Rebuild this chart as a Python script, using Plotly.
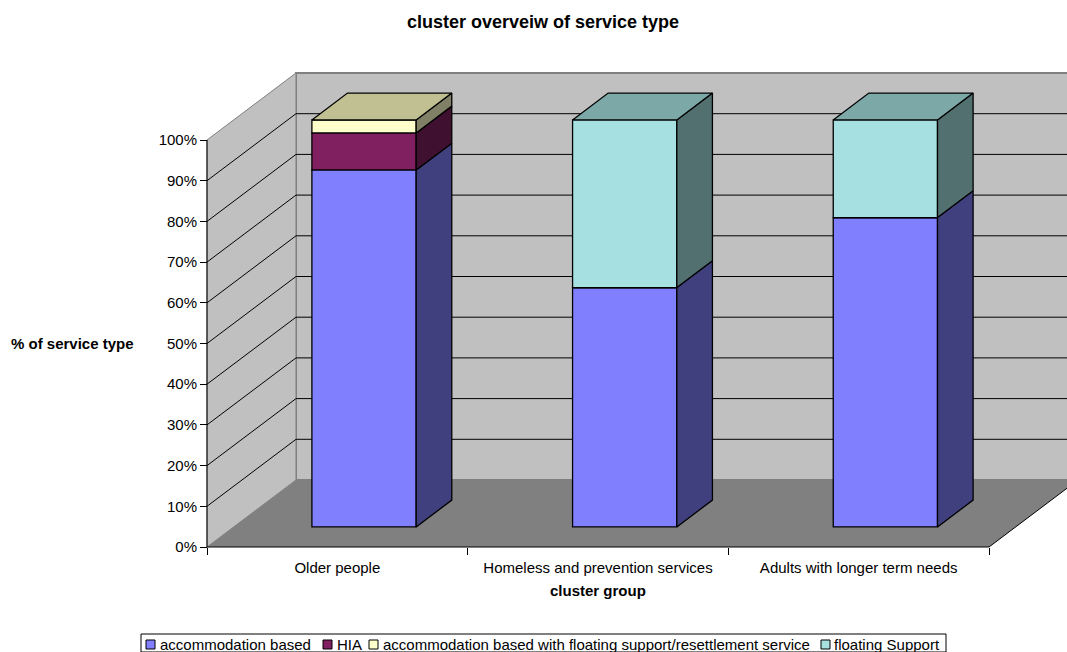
import plotly.graph_objects as go

categories = ["Older people", "Homeless and prevention services", "Adults with longer term needs"]
series_names = ["accommodation based", "HIA",
                "accommodation based with floating support/resettlement service", "floating Support"]
accommodation = [87.7, 58.8, 76.0]
hia = [9.1, 0, 0]
accommodation_floating = [3.2, 0, 0]
floating = [0, 41.2, 24.0]
series_values = [accommodation, hia, accommodation_floating, floating]
pct_ticks = [0, 10, 20, 30, 40, 50, 60, 70, 80, 90, 100]
pct_labels = ["0%", "10%", "20%", "30%", "40%", "50%", "60%", "70%", "80%", "90%", "100%"]

front_colors = ["#8080FF", "#802060", "#FFFFCC", "#A6E0E0"]
side_colors = ["#40407F", "#401030", "#808066", "#527070"]
top_colors = ["#6060BF", "#601848", "#C0C092", "#7CA8A8"]

W, H = 1067, 652
X0_PX, X1_PX, Y0_PX, Y100_PX = 207.0, 989.0, 547.0, 140.0
px_per_cat = (X1_PX - X0_PX) / len(categories)
px_per_pct = (Y0_PX - Y100_PX) / 100.0

# Oblique projection: full floor depth shifts right and up by these amounts
DEPTH_X = 89.0 / px_per_cat
DEPTH_Y = 67.0 / px_per_pct
BAR_HALF = 0.2
DEPTH_NEAR, DEPTH_FAR = 0.3, 0.7
EDGE_WIDTH = 1.3


def proj(x, depth, pct):
    return x + depth * DEPTH_X, pct + depth * DEPTH_Y


def path(points):
    return "M " + " L ".join(f"{x:.4f} {y:.4f}" for x, y in points) + " Z"


x_lo, x_hi = -0.5, len(categories) - 0.5
positions = list(range(len(categories)))
boundaries = [p - 0.5 for p in positions] + [x_hi]
shapes = []
wall = "#C0C0C0"
edge = "#808080"

# Back wall, left wall and floor
shapes.append(dict(type="path", layer="below", fillcolor=wall, line=dict(color=edge, width=2),
                   path=path([proj(x_lo, 1, 0), proj(x_lo, 1, 100), proj(x_hi, 1, 100), proj(x_hi, 1, 0)])))
shapes.append(dict(type="path", layer="below", fillcolor=wall, line=dict(color=edge, width=1),
                   path=path([proj(x_lo, 0, 0), proj(x_lo, 0, 100), proj(x_lo, 1, 100), proj(x_lo, 1, 0)])))
shapes.append(dict(type="path", layer="below", fillcolor=edge, line=dict(width=0),
                   path=path([proj(x_lo, 0, 0), proj(x_hi, 0, 0), proj(x_hi, 1, 0), proj(x_lo, 1, 0)])))

# Gridlines along the left wall and the back wall
for p in pct_ticks[1:-1]:
    a, b, c = proj(x_lo, 0, p), proj(x_lo, 1, p), proj(x_hi, 1, p)
    shapes.append(dict(type="line", layer="below", x0=a[0], y0=a[1], x1=b[0], y1=b[1],
                       line=dict(color="black", width=1)))
    shapes.append(dict(type="line", layer="below", x0=b[0], y0=b[1], x1=c[0], y1=c[1],
                       line=dict(color="black", width=1)))

# Axis lines and the open floor edge
for a, b in [(proj(x_lo, 0, 0), proj(x_lo, 0, 100)),
             (proj(x_lo, 0, 0), proj(x_hi, 0, 0)),
             (proj(x_hi, 0, 0), proj(x_hi, 1, 0))]:
    shapes.append(dict(type="line", layer="below", x0=a[0], y0=a[1], x1=b[0], y1=b[1],
                       line=dict(color="black", width=1)))

fig = go.Figure()

# Front faces of the stacked columns
near_shift = DEPTH_NEAR * DEPTH_Y
front_offset = -BAR_HALF + DEPTH_NEAR * DEPTH_X
cumulative = [0.0] * len(categories)
for name, values, color in zip(series_names, series_values, front_colors):
    fig.add_trace(go.Bar(
        x=positions, y=values,
        base=[c + near_shift for c in cumulative],
        width=2 * BAR_HALF, offset=front_offset, name=name,
        marker=dict(color=color, line=dict(color="black", width=EDGE_WIDTH)),
        showlegend=False,
    ))
    cumulative = [c + v for c, v in zip(cumulative, values)]


def add_face(points, color):
    xs, ys = zip(*(points + points[:1]))
    fig.add_trace(go.Scatter(x=list(xs), y=list(ys), mode="lines", fill="toself", fillcolor=color,
                             line=dict(color="black", width=EDGE_WIDTH), showlegend=False, hoverinfo="skip"))


# Side faces and the cap of each column
for i in positions:
    right = i + BAR_HALF
    left = i - BAR_HALF
    level = 0.0
    top_color = None
    for values, side, top in zip(series_values, side_colors, top_colors):
        v = values[i]
        if v <= 0:
            continue
        add_face([proj(right, DEPTH_NEAR, level), proj(right, DEPTH_FAR, level),
                  proj(right, DEPTH_FAR, level + v), proj(right, DEPTH_NEAR, level + v)], side)
        level += v
        top_color = top
    add_face([proj(left, DEPTH_NEAR, level), proj(right, DEPTH_NEAR, level),
              proj(right, DEPTH_FAR, level), proj(left, DEPTH_FAR, level)], top_color)

family = "Liberation Sans, Arial, sans-serif"
font = dict(family=family, size=15, color="black")

annotations = [
    dict(text="<b>% of service type</b>", x=72 / W, y=1 - 344 / H, xref="paper", yref="paper",
         xanchor="center", yanchor="middle", showarrow=False, font=font),
    dict(text="<b>cluster group</b>", x=598 / W, y=1 - 590 / H, xref="paper", yref="paper",
         xanchor="center", yanchor="middle", showarrow=False, font=font),
]

# Legend strip along the bottom edge
LEG_TOP, LEG_BOTTOM = 634, 652
shapes.append(dict(type="rect", xref="paper", yref="paper", x0=141 / W, x1=946 / W,
                   y0=1 - LEG_BOTTOM / H, y1=1 - LEG_TOP / H,
                   line=dict(color="black", width=1), fillcolor="white"))
legend_swatch_px = [146, 323, 369, 821]
legend_text_px = [159, 336, 382, 833]
for name, color, sx, tx in zip(series_names, front_colors, legend_swatch_px, legend_text_px):
    shapes.append(dict(type="rect", xref="paper", yref="paper", x0=sx / W, x1=(sx + 9) / W,
                       y0=1 - 649 / H, y1=1 - 640 / H, fillcolor=color,
                       line=dict(color="black", width=1)))
    annotations.append(dict(text=name, x=tx / W, y=1 - 644 / H, xref="paper", yref="paper",
                            xanchor="left", yanchor="middle", showarrow=False, font=font, borderpad=0))

x_range = [x_lo - X0_PX / px_per_cat, x_lo + (W - X0_PX) / px_per_cat]

fig.update_layout(
    width=W, height=H, autosize=False,
    margin=dict(l=0, r=0, t=0, b=0),
    paper_bgcolor="white", plot_bgcolor="white",
    barmode="overlay", showlegend=False,
    title=dict(text="<b>cluster overveiw of service type</b>", x=543 / W, xanchor="center",
               y=1 - 22 / H, yanchor="middle", font=dict(family=family, size=18, color="black")),
    font=font, shapes=shapes, annotations=annotations,
    xaxis=dict(range=x_range, anchor="free", position=(H - Y0_PX) / H,
               tickmode="array", tickvals=positions, ticktext=categories,
               ticks="outside", ticklen=7, tickcolor="rgba(0,0,0,0)", showgrid=False, showline=False,
               zeroline=False, tickfont=font, fixedrange=True),
    xaxis2=dict(range=x_range, overlaying="x", anchor="free", position=(H - Y0_PX) / H, side="bottom",
                tickmode="array", tickvals=boundaries, ticktext=["" for _ in boundaries],
                ticks="outside", ticklen=7, tickcolor="black", showgrid=False, showline=False,
                zeroline=False, fixedrange=True),
    yaxis=dict(range=[-(H - Y0_PX) / px_per_pct, Y0_PX / px_per_pct],
               anchor="free", position=X0_PX / W, tickmode="array", tickvals=pct_ticks, ticktext=pct_labels,
               ticks="outside", ticklen=7, tickcolor="black", showgrid=False, showline=False,
               zeroline=False, tickfont=font, fixedrange=True),
)

# An empty trace keeps the boundary tick axis on the figure
fig.add_trace(go.Scatter(x=[], y=[], xaxis="x2", showlegend=False, hoverinfo="skip"))

fig.write_html("out.html", config=dict(displayModeBar=False))
